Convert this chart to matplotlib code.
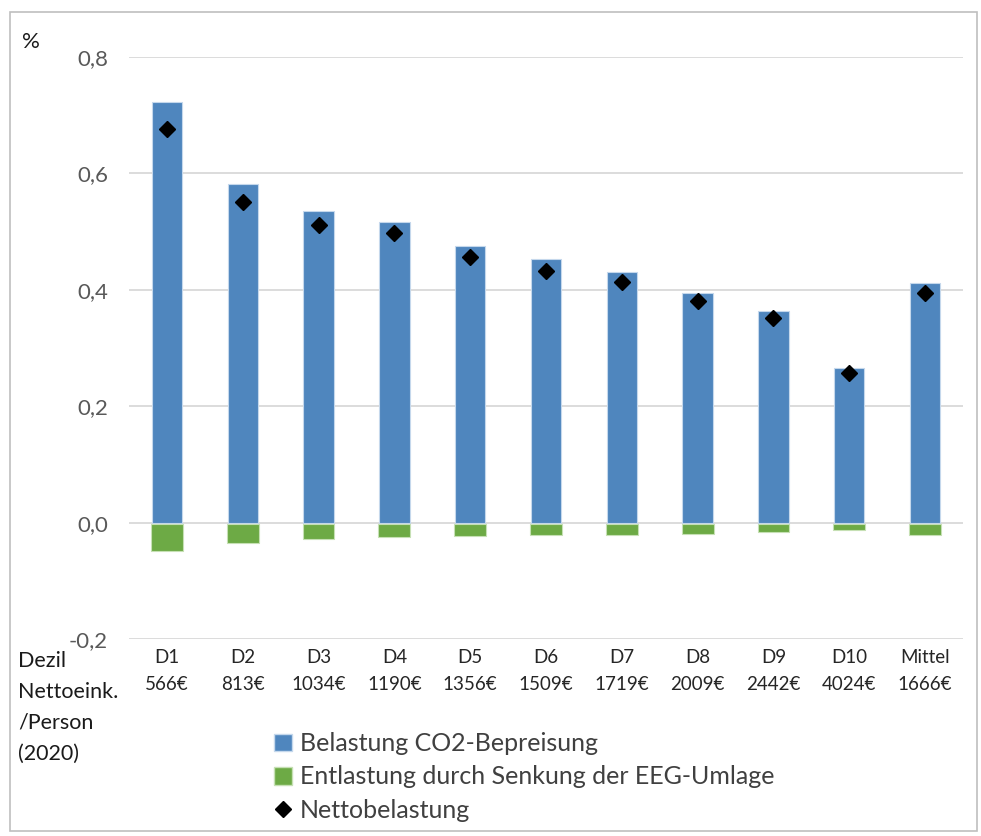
import matplotlib.pyplot as plt
from matplotlib.lines import Line2D
from matplotlib.patches import Patch, Rectangle
import numpy as np

plt.rcParams['font.family'] = ['Lato', 'DejaVu Sans']

# Werte (in % des Nettoeinkommens)
dezile = ['D1', 'D2', 'D3', 'D4', 'D5', 'D6', 'D7', 'D8', 'D9', 'D10', 'Mittel']
einkommen = ['566€', '813€', '1034€', '1190€', '1356€', '1509€', '1719€',
             '2009€', '2442€', '4024€', '1666€']
belastung = [0.722, 0.581, 0.535, 0.517, 0.476, 0.453, 0.431, 0.394, 0.363, 0.265, 0.411]
entlastung = [-0.046, -0.032, -0.026, -0.022, -0.020, -0.019, -0.018, -0.0165, -0.0125, -0.010, -0.018]
netto = [0.677, 0.551, 0.511, 0.497, 0.457, 0.433, 0.414, 0.381, 0.351, 0.257, 0.394]

blau = '#4F86BE'
gruen = '#6DAA45'

W, H = 981, 836
fig = plt.figure(figsize=(W / 100, H / 100), dpi=100)
ax = fig.add_axes([129 / W, 1 - 639 / H, (963 - 129) / W, (639 - 57) / H])

x = np.arange(len(dezile))
ax.bar(x, belastung, width=0.4, color=blau, edgecolor='#C5D8EC', linewidth=0.8, zorder=2)
ax.bar(x, entlastung, width=0.42, bottom=-0.003, color=gruen, edgecolor='#C6E0B4',
       linewidth=0.8, zorder=2)
ax.plot(x, netto, linestyle='none', marker='D', markersize=8.5, color='black', zorder=3)

ax.set_xlim(-0.5, len(dezile) - 0.5)
ax.set_ylim(-0.2, 0.8)
ax.set_yticks(np.arange(-0.2, 0.81, 0.2))
ax.set_yticklabels([f'{v:.1f}'.replace('.', ',') for v in np.arange(-0.2, 0.81, 0.2)],
                   fontsize=16, color='#595959')
ax.set_xticks(x)
ax.set_xticklabels([f'{d}\n{e}' for d, e in zip(dezile, einkommen)],
                   fontsize=13.5, color='#262626', linespacing=1.75)
ax.tick_params(axis='both', length=0)
ax.tick_params(axis='y', pad=15)
ax.tick_params(axis='x', pad=7)
ax.grid(axis='y', color='#D9D9D9', linewidth=1.3, zorder=0)
for s in ax.spines.values():
    s.set_visible(False)

fig.text(22 / W, 1 - 42 / H, '%', fontsize=16, color='#1a1a1a', va='center')
fig.text(18 / W, 1 - 651 / H, 'Dezil\nNettoeink.\n/Person\n(2020)', fontsize=15.5,
         color='#1a1a1a', va='top', ha='left', linespacing=1.68)

handles = [Patch(facecolor=blau, edgecolor='#C5D8EC'),
           Patch(facecolor=gruen, edgecolor='#C6E0B4'),
           Line2D([], [], linestyle='none', marker='D', markersize=8.5, color='black')]
labels = ['Belastung CO2-Bepreisung',
          'Entlastung durch Senkung der EEG-Umlage',
          'Nettobelastung']
leg = fig.legend(handles, labels, loc='upper left', bbox_to_anchor=(274 / W, 1 - 732 / H),
                 frameon=False, fontsize=18, handlelength=0.7, handleheight=0.7,
                 handletextpad=0.35, labelspacing=0.42, borderaxespad=0, borderpad=0)
for t in leg.get_texts():
    t.set_color('#404040')

fig.patches.append(Rectangle((10 / W, 1 - 831 / H), (977 - 10) / W, (831 - 12) / H,
                             transform=fig.transFigure, fill=False,
                             edgecolor='#BFBFBF', linewidth=1.2))

fig.savefig('out.png', dpi=100)
